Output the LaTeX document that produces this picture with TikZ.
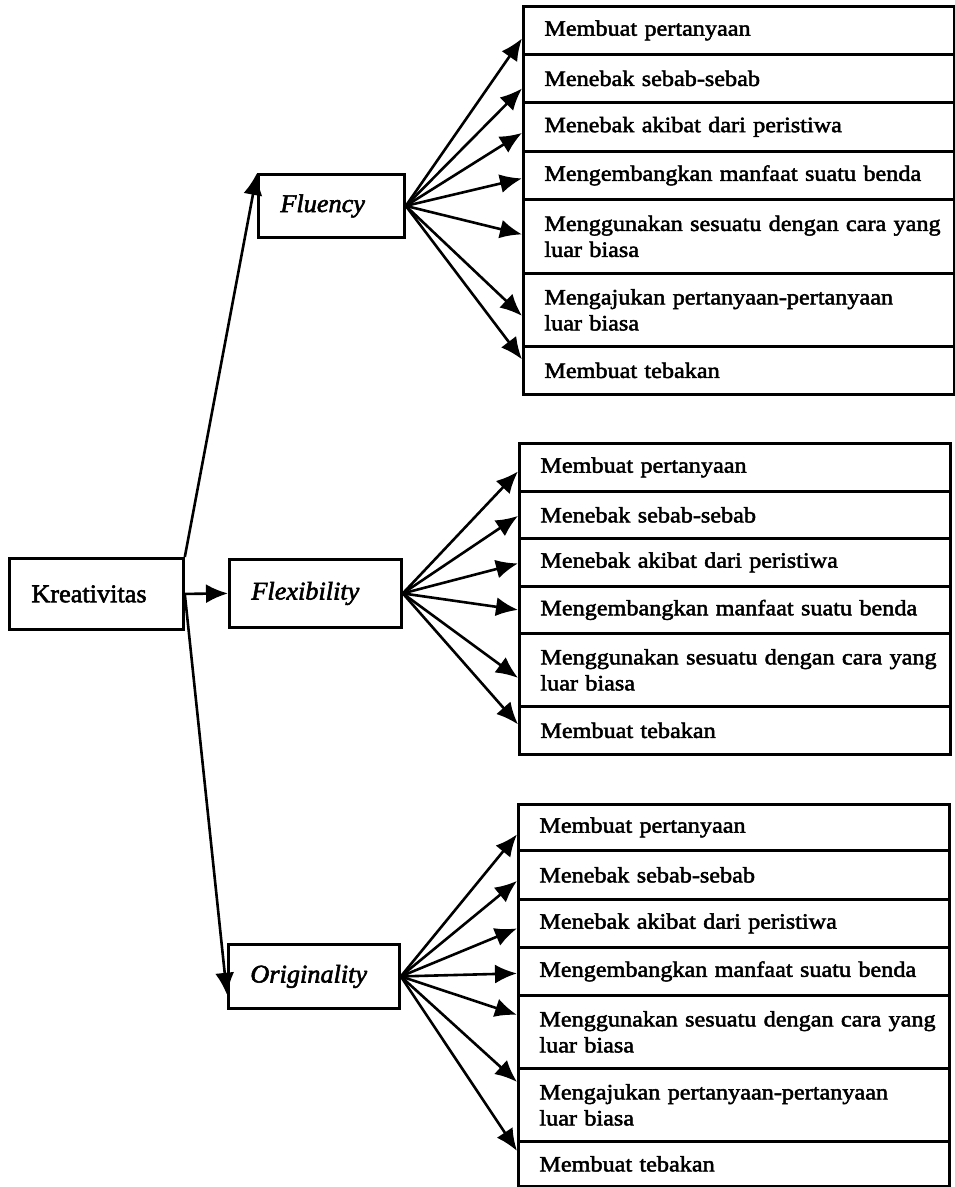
\documentclass[tikz,border=0pt]{standalone}
\usepackage{fontspec}
\setmainfont{Liberation Serif}[FakeStretch=1.03,FakeBold=2.2]
\newfontfamily\listfont{Liberation Serif}[FakeStretch=1.1,FakeBold=2.2]
\usetikzlibrary{arrows.meta,calc}
\begin{document}
\begin{tikzpicture}[x=1pt,y=-1pt,
  box/.style={draw, line width=2.8pt, anchor=north west, inner xsep=22pt, inner ysep=0pt, align=left, font=\fontsize{25.5}{30}\selectfont\itshape},
  rowbox/.style={draw, line width=2.8pt, anchor=north west, inner xsep=21pt, inner ysep=0pt, align=left, text width=389pt, font=\listfont\fontsize{22}{26}\selectfont},
  arr/.style={line width=2.6pt, -{Latex[length=22pt,width=19pt]}}
]
\useasboundingbox (0,0) rectangle (955,1187);

% left column
\node[box, font=\fontsize{25.5}{30}\selectfont, text width=130pt, minimum height=71pt] (kre) at (8,557) {Kreativitas};
\node[box, text width=102pt, minimum height=63pt] (flu) at (257,173) {Fluency};
\node[box, text width=128pt, minimum height=68pt] (flex) at (228,558) {Flexibility};
\node[box, text width=127pt, minimum height=64pt] (ori) at (227,943) {Originality};

% Fluency list
\node[rowbox, minimum height=48pt] (f1) at (522,5) {Membuat pertanyaan};
\node[rowbox, minimum height=48pt] (f2) at (522,53) {Menebak sebab-sebab};
\node[rowbox, minimum height=49pt] (f3) at (522,101) {Menebak akibat dari peristiwa};
\node[rowbox, minimum height=48pt] (f4) at (522,150) {Mengembangkan manfaat suatu benda};
\node[rowbox, minimum height=74pt] (f5) at (522,198) {\mbox{Menggunakan sesuatu dengan cara yang}\\luar biasa};
\node[rowbox, minimum height=73pt] (f6) at (522,272) {\mbox{Mengajukan pertanyaan-pertanyaan}\\luar biasa};
\node[rowbox, minimum height=48pt] (f7) at (522,345) {Membuat tebakan};

% Flexibility list
\node[rowbox, minimum height=48pt] (x1) at (518,442) {Membuat pertanyaan};
\node[rowbox, minimum height=47pt] (x2) at (518,490) {Menebak sebab-sebab};
\node[rowbox, minimum height=48pt] (x3) at (518,537) {Menebak akibat dari peristiwa};
\node[rowbox, minimum height=47pt] (x4) at (518,585) {Mengembangkan manfaat suatu benda};
\node[rowbox, minimum height=73pt] (x5) at (518,632) {\mbox{Menggunakan sesuatu dengan cara yang}\\luar biasa};
\node[rowbox, minimum height=48pt] (x6) at (518,705) {Membuat tebakan};

% Originality list
\node[rowbox, minimum height=46pt] (o1) at (517,803) {Membuat pertanyaan};
\node[rowbox, minimum height=49pt] (o2) at (517,849) {Menebak sebab-sebab};
\node[rowbox, minimum height=48pt] (o3) at (517,898) {Menebak akibat dari peristiwa};
\node[rowbox, minimum height=48pt] (o4) at (517,946) {Mengembangkan manfaat suatu benda};
\node[rowbox, minimum height=73pt] (o5) at (517,994) {\mbox{Menggunakan sesuatu dengan cara yang}\\luar biasa};
\node[rowbox, minimum height=73pt] (o6) at (517,1067) {\mbox{Mengajukan pertanyaan-pertanyaan}\\luar biasa};
\node[rowbox, minimum height=45pt] (o7) at (517,1140) {Membuat tebakan};

% main connectors
\draw[arr] (kre.east) -- (flex.west);
\draw[arr] (kre.north east) -- (flu.north west);
\draw[arr] (kre.east) -- ($(ori.south west)+(0,-15)$);

% Fluency fan
\draw[arr] (flu.east) -- ($(f1.west)+(0,8)$);
\draw[arr] (flu.east) -- ($(f2.west)+(0,10)$);
\draw[arr] (flu.east) -- ($(f3.west)+(0,6)$);
\draw[arr] (flu.east) -- ($(f4.west)+(0,3)$);
\draw[arr] (flu.east) -- ($(f5.west)+(0,-2)$);
\draw[arr] (flu.east) -- ($(f6.west)+(0,6)$);
\draw[arr] (flu.east) -- ($(f7.west)+(0,-11)$);

% Flexibility fan
\draw[arr] (flex.east) -- ($(x1.west)+(0,4)$);
\draw[arr] (flex.east) -- ($(x2.west)+(0,1)$);
\draw[arr] (flex.east) -- ($(x3.west)+(0,1)$);
\draw[arr] (flex.east) -- (x4.west);
\draw[arr] (flex.east) -- ($(x5.west)+(0,8)$);
\draw[arr] (flex.east) -- ($(x6.west)+(0,-6)$);

% Originality fan
\draw[arr] (ori.east) -- ($(o1.west)+(0,7)$);
\draw[arr] (ori.east) -- ($(o2.west)+(0,6)$);
\draw[arr] (ori.east) -- ($(o3.west)+(0,5)$);
\draw[arr] (ori.east) -- ($(o4.west)+(0,2)$);
\draw[arr] (ori.east) -- ($(o5.west)+(0,-17)$);
\draw[arr] (ori.east) -- ($(o6.west)+(0,-23)$);
\draw[arr] (ori.east) -- ($(o7.west)+(0,-13)$);
\end{tikzpicture}
\end{document}
